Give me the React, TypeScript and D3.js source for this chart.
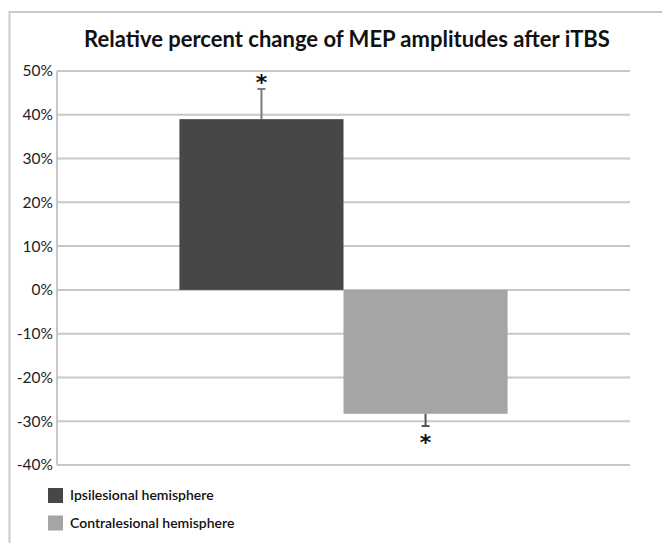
import React from 'react';
import { scaleBand, scaleLinear } from 'd3';

// data
const categories = ['iTBS'];
const seriesNames = ['Ipsilesional hemisphere', 'Contralesional hemisphere'];
const seriesValues = [0.39, -0.283];
const seriesErrors = [0.069, 0.028];
const seriesColors = ['#474747', '#a5a5a5'];
const yTicks = [0.5, 0.4, 0.3, 0.2, 0.1, 0, -0.1, -0.2, -0.3, -0.4];

const W = 662, H = 543;
const margin = { top: 71, right: 32, bottom: 78, left: 57 };

const App: React.FC = () => {
  const x0 = scaleBand().domain(categories).range([margin.left, W - margin.right]).paddingInner(0).paddingOuter(0.373);
  const x1 = scaleBand().domain(seriesNames).range([0, x0.bandwidth()]).padding(0);
  const y = scaleLinear().domain([0.5, -0.4]).range([margin.top, H - margin.bottom]);
  const pct = (v: number) => `${Math.round(v * 100)}%`;
  const font = "Lato, 'Open Sans', sans-serif";

  return (
    <svg width={W} height={H} style={{ position: 'absolute', left: 0, top: 0, background: '#fff' }}>
      {/* outer frame */}
      <path d={`M9.5,${H} V12 H${W}`} fill="none" stroke="#c9c9c9" strokeWidth={2} />

      <text x={347} y={47} textAnchor="middle" fontFamily={font} fontWeight={700} fontSize={22} fill="#111">
        Relative percent change of MEP amplitudes after iTBS
      </text>

      {/* grid + y axis */}
      <g>
        {yTicks.map((t) => (
          <g key={t}>
            <line x1={margin.left} x2={W - margin.right} y1={y(t)} y2={y(t)} stroke="#c8c8c8" strokeWidth={2} />
            <text x={53} y={y(t)} dy="0.35em" textAnchor="end" fontFamily={font} fontSize={15.5} fill="#222">
              {pct(t)}
            </text>
          </g>
        ))}
        <line x1={margin.left} x2={margin.left} y1={y(0.5)} y2={y(-0.4)} stroke="#c8c8c8" strokeWidth={2} />
      </g>

      {/* bars */}
      {categories.map((c) => (
        <g key={c} transform={`translate(${x0(c)},0)`}>
          {seriesNames.map((s, i) => {
            const v = seriesValues[i];
            const e = seriesErrors[i];
            const bx = x1(s)!;
            const cx = bx + x1.bandwidth() / 2;
            const ye = y(v + Math.sign(v) * e);
            const errColor = i === 0 ? '#7a7a7a' : '#555';
            return (
              <g key={s}>
                <rect x={bx} width={x1.bandwidth()} y={Math.min(y(v), y(0))} height={Math.abs(y(v) - y(0))} fill={seriesColors[i]} />
                <line x1={cx} x2={cx} y1={y(v)} y2={ye} stroke={errColor} strokeWidth={2} />
                <line x1={cx - 4} x2={cx + 4} y1={ye} y2={ye} stroke={errColor} strokeWidth={2} />
                <text x={cx} y={v > 0 ? ye + 1 : ye + 24} textAnchor="middle" fontFamily="'DejaVu Sans', sans-serif" fontWeight={700} fontSize={22} fill="#111">
                  *
                </text>
              </g>
            );
          })}
        </g>
      ))}

      {/* legend */}
      {seriesNames.map((s, i) => (
        <g key={s} transform={`translate(48,${488 + i * 27.5})`}>
          <rect width={15} height={15} fill={seriesColors[i]} />
          <text x={22} y={12} fontFamily={font} fontWeight={600} fontSize={14} fill="#111">
            {s}
          </text>
        </g>
      ))}
    </svg>
  );
};

export default App;
